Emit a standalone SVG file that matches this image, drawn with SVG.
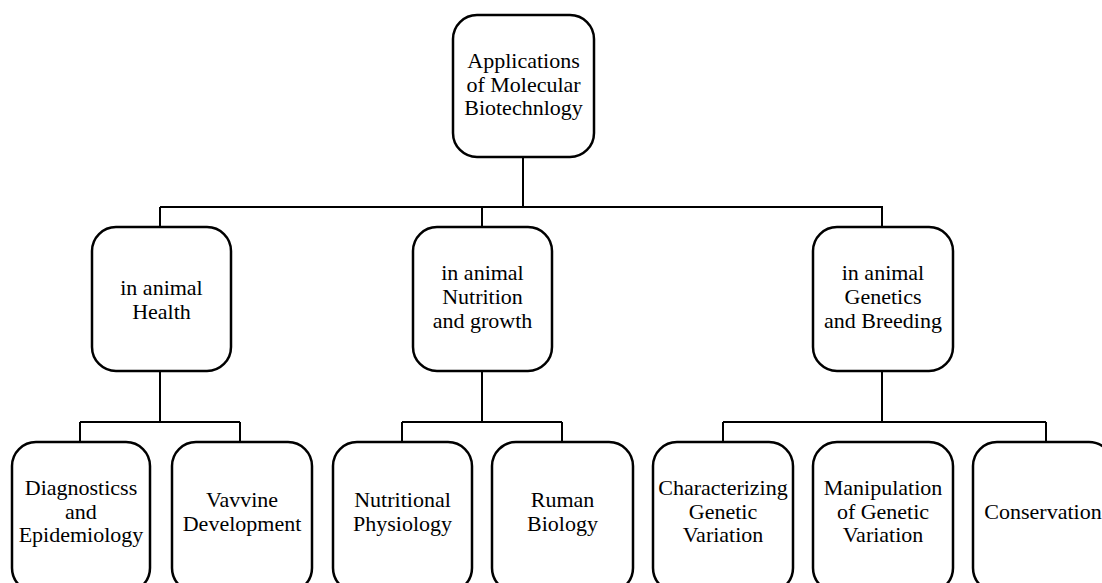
<svg xmlns="http://www.w3.org/2000/svg" width="1102" height="583" viewBox="0 0 1102 583" font-family="'Liberation Serif', Tinos, 'Times New Roman', 'DejaVu Serif', serif">
<style>
.box{fill:#fff;stroke:#000;stroke-width:2.5}
.ln{fill:none;stroke:#000;stroke-width:2}
text{font-family:'Liberation Serif', Tinos, 'Times New Roman', 'DejaVu Serif', serif;font-size:22px;fill:#000;text-anchor:middle}
</style>
<rect width="1102" height="583" fill="#fff"/>
<g id="connectors">
<path class="ln" d="M523,157 V207 M160,207 H883 M160,207 V227 M482,207 V227 M882,207 V227"/>
<path class="ln" d="M160,371 V422 M80,422 H240 M80,422 V442 M240,422 V442"/>
<path class="ln" d="M482,371 V422 M402,422 H562 M402,422 V442 M562,422 V442"/>
<path class="ln" d="M882,371 V422 M723,422 H1046 M723,422 V442 M1046,422 V442"/>
</g>
<g id="root">
<rect class="box" x="453" y="15" width="141" height="142" rx="24"/>
<text x="523.5" y="68">Applications</text>
<text x="523.5" y="91.5">of Molecular</text>
<text x="523.5" y="115">Biotechnlogy</text>
</g>
<g id="health">
<rect class="box" x="92" y="227" width="139" height="144" rx="24"/>
<text x="161.5" y="295">in animal</text>
<text x="161.5" y="319">Health</text>
</g>
<g id="nutrition">
<rect class="box" x="413" y="227" width="139" height="144" rx="24"/>
<text x="482.5" y="280">in animal</text>
<text x="482.5" y="304">Nutrition</text>
<text x="482.5" y="327.5">and growth</text>
</g>
<g id="genetics">
<rect class="box" x="813" y="227" width="140" height="144" rx="24"/>
<text x="883" y="280">in animal</text>
<text x="883" y="304">Genetics</text>
<text x="883" y="327.5">and Breeding</text>
</g>
<g id="diagnostics">
<rect class="box" x="12" y="442" width="138" height="150" rx="24"/>
<text x="81" y="495">Diagnosticss</text>
<text x="81" y="518.5">and</text>
<text x="81" y="542">Epidemiology</text>
</g>
<g id="vaccine">
<rect class="box" x="172" y="442" width="140" height="150" rx="24"/>
<text x="242" y="507">Vavvine</text>
<text x="242" y="530.5">Development</text>
</g>
<g id="physiology">
<rect class="box" x="333" y="442" width="139" height="150" rx="24"/>
<text x="402.5" y="507">Nutritional</text>
<text x="402.5" y="530.5">Physiology</text>
</g>
<g id="ruman">
<rect class="box" x="492" y="442" width="141" height="150" rx="24"/>
<text x="562.5" y="507">Ruman</text>
<text x="562.5" y="530.5">Biology</text>
</g>
<g id="characterizing">
<rect class="box" x="653" y="442" width="140" height="150" rx="24"/>
<text x="723" y="495">Characterizing</text>
<text x="723" y="518.5">Genetic</text>
<text x="723" y="542">Variation</text>
</g>
<g id="manipulation">
<rect class="box" x="813" y="442" width="140" height="150" rx="24"/>
<text x="883" y="495">Manipulation</text>
<text x="883" y="518.5">of Genetic</text>
<text x="883" y="542">Variation</text>
</g>
<g id="conservation">
<rect class="box" x="973" y="442" width="140" height="150" rx="24"/>
<text x="1043" y="518.5">Conservation</text>
</g>
</svg>
